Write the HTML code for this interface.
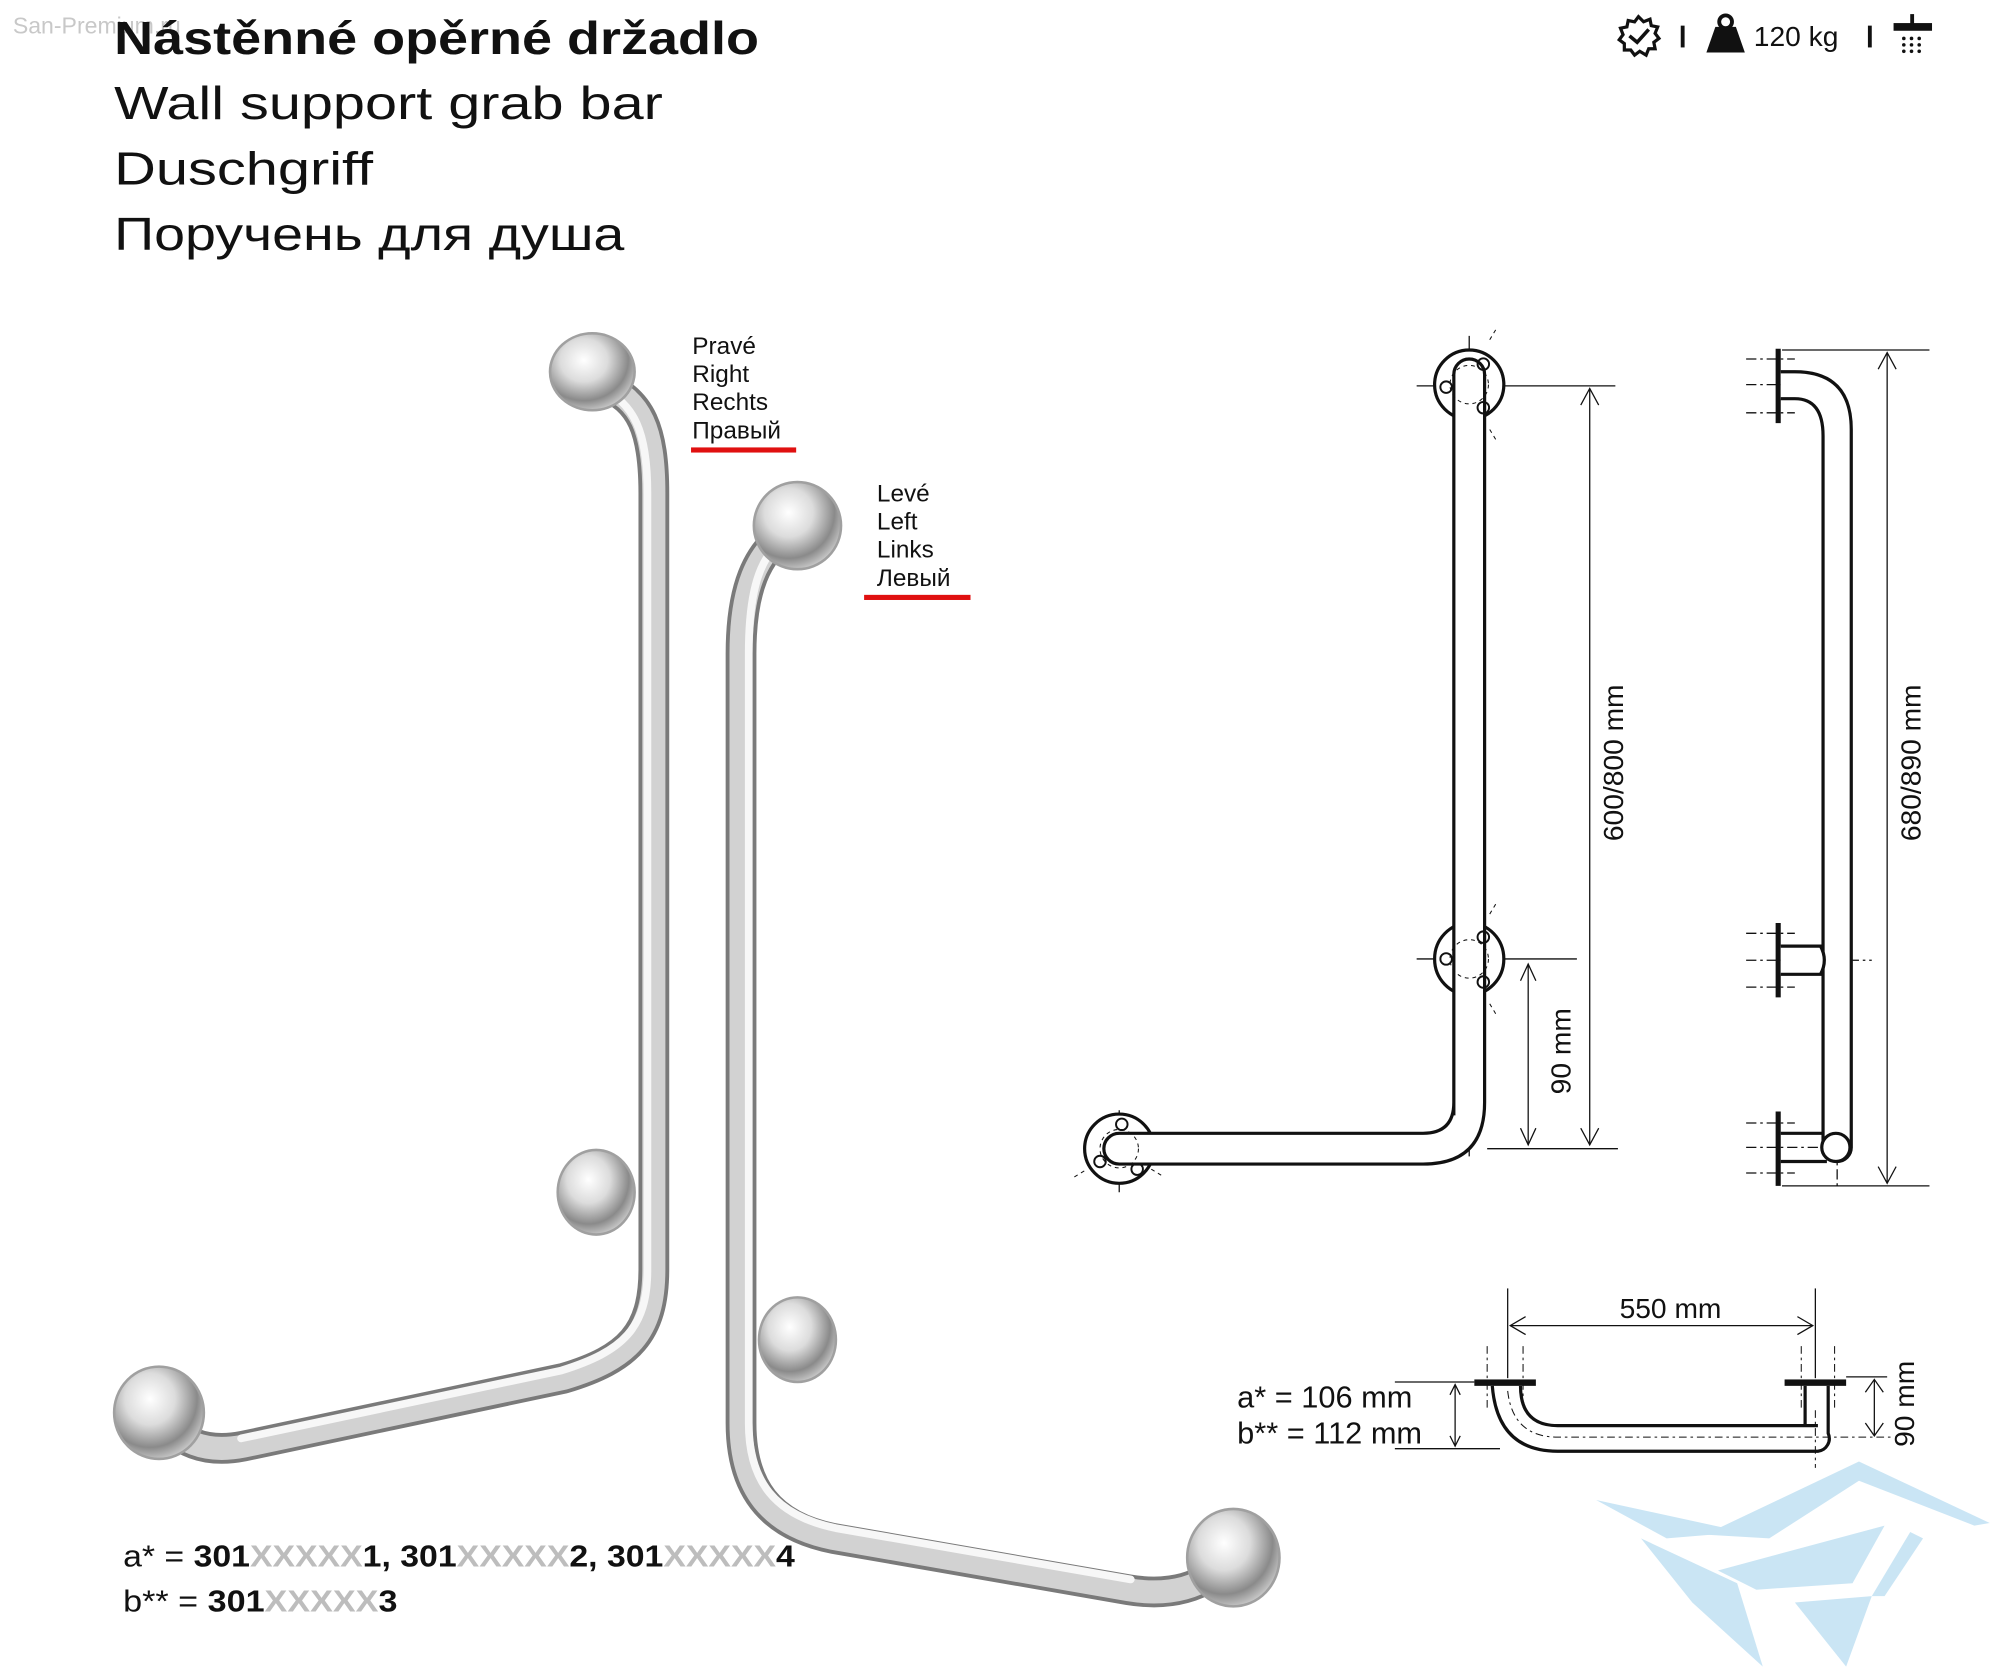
<!DOCTYPE html>
<html><head><meta charset="utf-8"><style>
html,body{margin:0;padding:0;background:#fff}
svg{display:block}
text{font-family:"Liberation Sans","DejaVu Sans",sans-serif}
</style></head><body>
<svg width="2000" height="1667" viewBox="0 0 1560 1300.3" xmlns="http://www.w3.org/2000/svg">
<defs>
<radialGradient id="ros" cx="40%" cy="35%" r="70%">
<stop offset="0" stop-color="#ffffff"/><stop offset="0.4" stop-color="#dcdcdc"/><stop offset="0.75" stop-color="#8a8a8a"/><stop offset="1" stop-color="#d5d5d5"/>
</radialGradient>
</defs>
<rect width="1560" height="1300.3" fill="#fff"/>
<text x="10" y="26" font-size="18" fill="#c8c8c8">San-Premium.ru</text>
<text x="89" y="42" font-size="36" font-weight="bold" fill="#111" textLength="503" lengthAdjust="spacingAndGlyphs">Nástěnné opěrné držadlo</text>
<text x="89" y="93" font-size="36" fill="#111" textLength="428" lengthAdjust="spacingAndGlyphs">Wall support grab bar</text>
<text x="89" y="144" font-size="36" fill="#111" textLength="202" lengthAdjust="spacingAndGlyphs">Duschgriff</text>
<text x="89" y="195" font-size="36" fill="#111" textLength="398" lengthAdjust="spacingAndGlyphs">Поручень для душа</text>
<g fill="#111">
<polygon points="1278,13 1282,17 1287,15 1288,20 1293,21 1291,26 1294,30 1290,33 1291,38 1286,38 1284,43 1279,40 1275,43 1272,39 1267,39 1267,34 1263,31 1266,27 1264,22 1269,21 1270,16 1275,17" fill="none" stroke="#111" stroke-width="2.5"/>
<polyline points="1271,28 1277,33 1286,23" fill="none" stroke="#111" stroke-width="2.8"/>
<rect x="1311" y="20" width="3" height="17"/>
<circle cx="1346" cy="17" r="5" fill="none" stroke="#111" stroke-width="3"/>
<polygon points="1338,21 1354,21 1361,41 1331,41"/>
<text x="1368" y="36" font-size="22">120 kg</text>
<rect x="1457" y="20" width="3" height="17"/>
<rect x="1477" y="18" width="30" height="6"/><rect x="1490" y="11" width="3" height="8"/>
<g><circle cx="1485" cy="30" r="1.4"/><circle cx="1491" cy="30" r="1.4"/><circle cx="1497" cy="30" r="1.4"/><circle cx="1485" cy="35" r="1.4"/><circle cx="1491" cy="35" r="1.4"/><circle cx="1497" cy="35" r="1.4"/><circle cx="1485" cy="40" r="1.4"/><circle cx="1491" cy="40" r="1.4"/><circle cx="1497" cy="40" r="1.4"/></g>
</g>
<g font-size="19" fill="#111">
<text x="540" y="276">Pravé</text><text x="540" y="298">Right</text><text x="540" y="320">Rechts</text><text x="540" y="342">Правый</text>
<text x="684" y="391">Levé</text><text x="684" y="413">Left</text><text x="684" y="435">Links</text><text x="684" y="457">Левый</text>
</g>
<rect x="539" y="349" width="82" height="4" fill="#e01010"/>
<rect x="674" y="464" width="83" height="4" fill="#e01010"/>
<g fill="none" stroke-linecap="round" stroke-linejoin="round">
<path d="M470 300 C500 312 510 335 510 385 L510 990 C510 1040 490 1060 440 1075 L190 1128 C160 1134 140 1125 122 1104" stroke="#7a7a7a" stroke-width="24"/>
<path d="M470 300 C500 312 510 335 510 385 L510 990 C510 1040 490 1060 440 1075 L190 1128 C160 1134 140 1125 122 1104" stroke="#d2d2d2" stroke-width="18"/>
<path d="M467 302 C495 314 505 337 505 385 L505 990 C505 1036 486 1054 438 1069 L188 1122" stroke="#f7f7f7" stroke-width="6"/>
<path d="M615 415 C590 430 578 460 578 510 L578 1110 C578 1160 600 1190 650 1200 L880 1240 C910 1245 940 1240 960 1215" stroke="#7a7a7a" stroke-width="24"/>
<path d="M615 415 C590 430 578 460 578 510 L578 1110 C578 1160 600 1190 650 1200 L880 1240 C910 1245 940 1240 960 1215" stroke="#d2d2d2" stroke-width="18"/>
<path d="M612 420 C592 434 584 462 584 510 L584 1110 C584 1155 604 1182 652 1192 L882 1232" stroke="#f7f7f7" stroke-width="6"/>
</g>
<g stroke="#a0a0a0" stroke-width="2">
<ellipse cx="462" cy="290" rx="33" ry="30" fill="url(#ros)"/>
<ellipse cx="465" cy="930" rx="30" ry="33" fill="url(#ros)"/>
<ellipse cx="124" cy="1102" rx="35" ry="36" fill="url(#ros)"/>
<ellipse cx="622" cy="410" rx="34" ry="34" fill="url(#ros)"/>
<ellipse cx="622" cy="1045" rx="30" ry="33" fill="url(#ros)"/>
<ellipse cx="962" cy="1215" rx="36" ry="38" fill="url(#ros)"/>
</g>
<g font-size="24" font-weight="bold" fill="#111">
<text x="96" y="1222" textLength="524" lengthAdjust="spacingAndGlyphs"><tspan font-weight="normal">a* = </tspan>301<tspan fill="#bdbdbd">XXXXX</tspan>1, 301<tspan fill="#bdbdbd">XXXXX</tspan>2, 301<tspan fill="#bdbdbd">XXXXX</tspan>4</text>
<text x="96" y="1257" textLength="214" lengthAdjust="spacingAndGlyphs"><tspan font-weight="normal">b** = </tspan>301<tspan fill="#bdbdbd">XXXXX</tspan>3</text>
</g>
<g fill="none" stroke="#111">
<g stroke-width="1" stroke-dasharray="10 3 2 3">
<line x1="1146" y1="262" x2="1146" y2="905"/>
<line x1="862" y1="896" x2="1146" y2="896"/>
<line x1="873" y1="866" x2="873" y2="930"/>
</g>
<g stroke-width="1">
<line x1="1105" y1="301" x2="1260" y2="301"/>
<line x1="1105" y1="748" x2="1230" y2="748"/>
<line x1="1160" y1="896" x2="1262" y2="896"/>
<line x1="1240" y1="303" x2="1240" y2="893"/>
<polyline points="1233,316 1240,303 1247,316"/><polyline points="1233,880 1240,893 1247,880"/>
<line x1="1192" y1="752" x2="1192" y2="893"/>
<polyline points="1186,765 1192,752 1198,765"/><polyline points="1186,880 1192,893 1198,880"/>
</g>
<circle cx="1146" cy="300" r="27" stroke-width="2.5" fill="#fff"/>
<ellipse cx="1146" cy="748" rx="27" ry="28" stroke-width="2.5" fill="#fff"/>
<circle cx="873" cy="896" r="27" stroke-width="2.5" fill="#fff"/>
<path d="M1134 870 L1134 292 A12 12 0 0 1 1158 292 L1158 860 Q1158 908 1110 908 L873 908 A12 12 0 0 1 873 884 L1110 884 Q1134 884 1134 860 Z" stroke-width="2.5" fill="#fff"/>
<g stroke-width="1.5">
<circle cx="1128" cy="302" r="4.5"/><circle cx="1157" cy="284" r="4.5"/><circle cx="1157" cy="318" r="4.5"/>
<circle cx="1128" cy="748" r="4.5"/><circle cx="1157" cy="731" r="4.5"/><circle cx="1157" cy="766" r="4.5"/>
<circle cx="875" cy="877" r="4.5"/><circle cx="858" cy="906" r="4.5"/><circle cx="887" cy="912" r="4.5"/>
</g>
<g stroke-width="0.8" stroke-dasharray="3 3">
<circle cx="1146" cy="300" r="15"/><circle cx="1146" cy="748" r="15"/><circle cx="873" cy="896" r="15"/>
<line x1="1162" y1="265" x2="1168" y2="255"/><line x1="1162" y1="335" x2="1168" y2="345"/>
<line x1="1162" y1="713" x2="1168" y2="703"/><line x1="1162" y1="783" x2="1168" y2="793"/>
<line x1="838" y1="918" x2="848" y2="912"/><line x1="898" y1="912" x2="908" y2="918"/>
</g>
</g>
<g font-size="22" fill="#111">
<text transform="translate(1266,595) rotate(-90)" text-anchor="middle">600/800 mm</text>
<text transform="translate(1225,820) rotate(-90)" text-anchor="middle">90 mm</text>
<text transform="translate(1498,595) rotate(-90)" text-anchor="middle">680/890 mm</text>
</g>
<g fill="none" stroke="#111">
<g stroke-width="1" stroke-dasharray="8 3 2 3">
<line x1="1362" y1="280" x2="1400" y2="280"/><line x1="1362" y1="300" x2="1400" y2="300"/><line x1="1362" y1="322" x2="1400" y2="322"/>
<line x1="1362" y1="728" x2="1400" y2="728"/><line x1="1362" y1="749" x2="1460" y2="749"/><line x1="1362" y1="770" x2="1400" y2="770"/>
<line x1="1362" y1="876" x2="1400" y2="876"/><line x1="1362" y1="895" x2="1445" y2="895"/><line x1="1362" y1="915" x2="1400" y2="915"/>
<line x1="1433" y1="320" x2="1433" y2="925"/>
</g>
<g stroke-width="1">
<line x1="1390" y1="273" x2="1505" y2="273"/><line x1="1390" y1="925" x2="1505" y2="925"/>
<line x1="1472" y1="275" x2="1472" y2="923"/>
<polyline points="1465,288 1472,275 1479,288"/><polyline points="1465,910 1472,923 1479,910"/>
</g>
<g stroke-width="4"><line x1="1387" y1="272" x2="1387" y2="330"/><line x1="1387" y1="720" x2="1387" y2="778"/><line x1="1387" y1="867" x2="1387" y2="925"/></g>
<path d="M1389 290 L1400 290 Q1444 290 1444 335 L1444 895 A11 11 0 0 1 1422 895 L1422 340 Q1422 311 1400 311 L1389 311" stroke-width="2.5" fill="#fff"/>
<path d="M1389 738 L1420 738 Q1426 749 1420 760 L1389 760" stroke-width="2.5" fill="#fff"/>
<line x1="1389" y1="884" x2="1422" y2="884" stroke-width="2.5"/><line x1="1389" y1="906" x2="1425" y2="906" stroke-width="2.5"/>
<circle cx="1432" cy="895" r="11" stroke-width="2.5" fill="#fff"/>
</g>
<g fill="none" stroke="#111">
<g stroke-width="1">
<line x1="1176" y1="1005" x2="1176" y2="1075"/><line x1="1416" y1="1005" x2="1416" y2="1075"/>
<line x1="1178" y1="1034" x2="1414" y2="1034"/>
<polyline points="1190,1027 1178,1034 1190,1041"/><polyline points="1402,1027 1414,1034 1402,1041"/>
<line x1="1088" y1="1078" x2="1150" y2="1078"/><line x1="1088" y1="1130" x2="1170" y2="1130"/>
<line x1="1135" y1="1080" x2="1135" y2="1128"/>
<polyline points="1131,1088 1135,1080 1139,1088"/><polyline points="1131,1120 1135,1128 1139,1120"/>
<line x1="1440" y1="1074" x2="1472" y2="1074"/>
<line x1="1462" y1="1076" x2="1462" y2="1120"/>
<polyline points="1455,1086 1462,1076 1469,1086"/><polyline points="1455,1110 1462,1120 1469,1110"/>
</g>
<g stroke-width="0.8" stroke-dasharray="6 3 2 3">
<line x1="1160" y1="1050" x2="1160" y2="1100"/><line x1="1188" y1="1050" x2="1188" y2="1100"/>
<line x1="1405" y1="1050" x2="1405" y2="1100"/><line x1="1431" y1="1050" x2="1431" y2="1100"/>
<line x1="1416" y1="1100" x2="1416" y2="1145"/>
<path d="M1176 1085 Q1180 1121 1215 1121 L1475 1121"/>
</g>
<rect x="1150" y="1076" width="48" height="5" fill="#111" stroke="none"/>
<rect x="1392" y="1076" width="48" height="5" fill="#111" stroke="none"/>
<path d="M1164 1081 Q1168 1132 1215 1132 L1418 1132 A10 10 0 0 0 1426 1118 L1426 1081 M1408 1081 L1408 1112 L1418 1112 L1215 1112 Q1186 1112 1186 1081" stroke-width="2.5"/>
</g>
<g font-size="22" fill="#111">
<text x="1303" y="1028" text-anchor="middle">550 mm</text>
<text x="965" y="1098" font-size="24">a* = 106 mm</text>
<text x="965" y="1126" font-size="24">b** = 112 mm</text>
<text transform="translate(1493,1095) rotate(-90)" text-anchor="middle">90 mm</text>
</g>
<g fill="#9fd0ec" opacity="0.55">
<polygon points="1245,1170 1360,1195 1300,1200"/>
<polygon points="1330,1197 1450,1140 1552,1188 1540,1190 1450,1155 1380,1200"/>
<polygon points="1280,1200 1355,1235 1375,1300 1320,1250"/>
<polygon points="1340,1225 1470,1190 1445,1235 1370,1240"/>
<polygon points="1400,1250 1460,1245 1440,1300"/>
<polygon points="1490,1195 1500,1200 1470,1245 1460,1245"/>
</g>
</svg>
</body></html>
